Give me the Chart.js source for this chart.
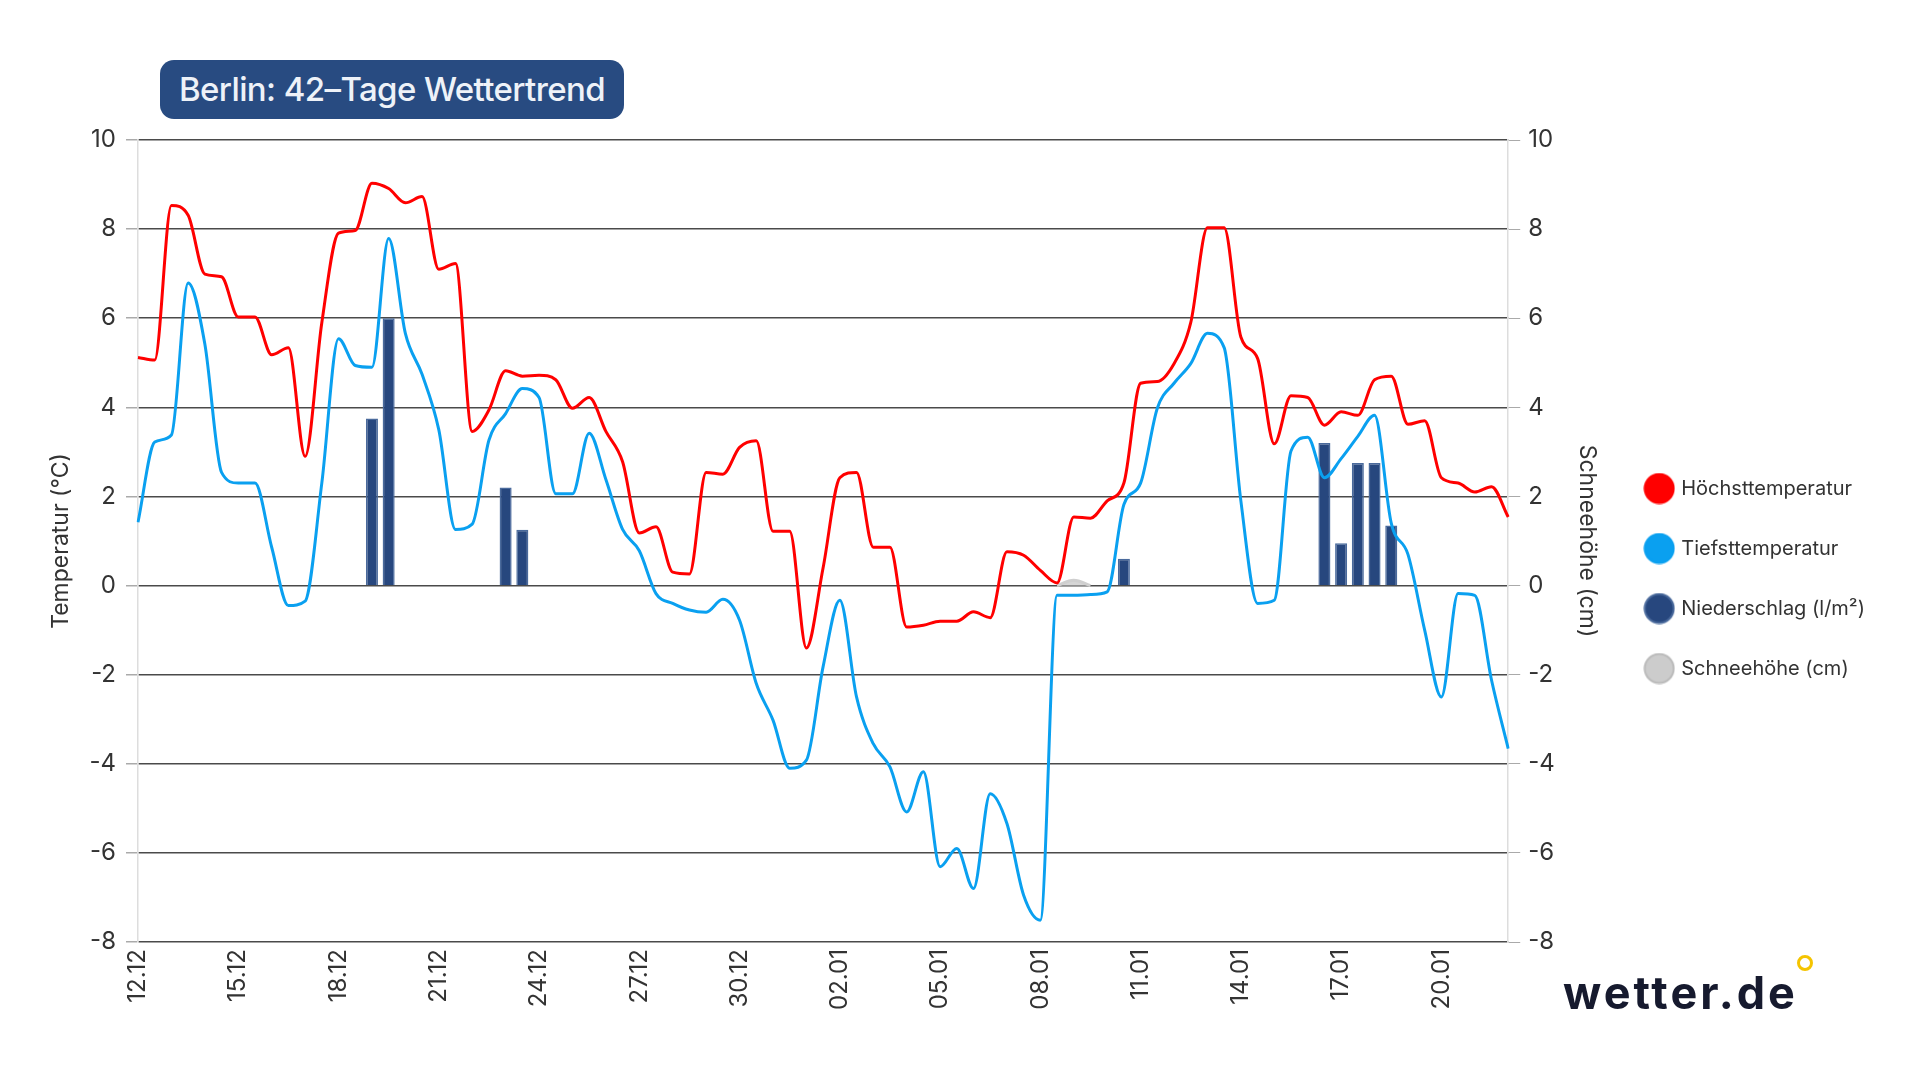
<!DOCTYPE html>
<html lang="de">
<head>
<meta charset="utf-8">
<title>Berlin: 42-Tage Wettertrend</title>
<script src="https://cdn.jsdelivr.net/npm/chart.js@4.4.1/dist/chart.umd.min.js"></script>
<style>
  html, body { margin: 0; padding: 0; background: #fff; }
  #wrap { position: relative; width: 1920px; height: 1080px; overflow: hidden; }
  #chart { position: absolute; left: 0; top: 0; width: 1920px; height: 1080px; }
  .badge {
    position: absolute; left: 160px; top: 60px; width: 464px; height: 59px;
    background: #284b81; border-radius: 14px; color: #eef2f8;
    font: 500 33px Inter, sans-serif; letter-spacing: -0.6px;
    line-height: 59px; text-align: center; white-space: nowrap;
  }
  .logo {
    position: absolute; left: 1563px; top: 971px;
    font: 700 45px Inter, sans-serif; line-height: 44px; letter-spacing: 3px;
    color: #161a2e; white-space: nowrap;
  }
  .ring {
    position: absolute; left: 1797px; top: 955px; width: 10px; height: 10px;
    border: 3.5px solid #f5c400; border-radius: 50%;
  }
</style>
</head>
<body>
<div id="wrap">
  <canvas id="chart" width="1920" height="1080"></canvas>
  <div class="badge">Berlin: 42–Tage Wettertrend</div>
  <div class="logo">wetter.de</div>
  <div class="ring"></div>
</div>
<script>
// Tage (Achsenbeschriftung), je zwei Werte pro Tag
const days = ['12.12', '13.12', '14.12', '15.12', '16.12', '17.12', '18.12', '19.12', '20.12', '21.12',
  '22.12', '23.12', '24.12', '25.12', '26.12', '27.12', '28.12', '29.12', '30.12', '31.12',
  '01.01', '02.01', '03.01', '04.01', '05.01', '06.01', '07.01', '08.01', '09.01', '10.01',
  '11.01', '12.01', '13.01', '14.01', '15.01', '16.01', '17.01', '18.01', '19.01', '20.01',
  '21.01', '22.01'];

const maxTemp = [5.12, 5.06, 8.53, 8.31, 6.99, 6.93, 6.03, 6.03, 5.18, 5.34,
  2.9, 5.9, 7.91, 7.97, 9.03, 8.91, 8.59, 8.73, 7.1, 7.23,
  3.46, 3.94, 4.82, 4.7, 4.72, 4.62, 3.98, 4.22, 3.46, 2.78,
  1.18, 1.32, 0.3, 0.26, 2.54, 2.5, 3.1, 3.25, 1.22, 1.22,
  -1.4, 0.4, 2.42, 2.54, 0.86, 0.86, -0.93, -0.89, -0.8, -0.8,
  -0.59, -0.72, 0.76, 0.68, 0.34, 0.06, 1.54, 1.51, 1.9, 2.3,
  4.54, 4.58, 4.98, 5.9, 8.03, 8.03, 5.58, 5.1, 3.18, 4.26,
  4.22, 3.6, 3.9, 3.82, 4.62, 4.7, 3.62, 3.7, 2.42, 2.3,
  2.1, 2.22, 1.54];

const minTemp = [1.42, 3.22, 3.38, 6.79, 5.42, 2.54, 2.3, 2.3, 0.86, -0.45,
  -0.35, 2.3, 5.54, 4.94, 4.9, 7.79, 5.66, 4.74, 3.5, 1.26,
  1.38, 3.26, 3.86, 4.42, 4.22, 2.06, 2.06, 3.42, 2.38, 1.26,
  0.78, -0.18, -0.4, -0.55, -0.6, -0.31, -0.78, -2.2, -3.02, -4.1,
  -3.92, -1.82, -0.33, -2.5, -3.55, -4.07, -5.08, -4.18, -6.31, -5.9,
  -6.8, -4.67, -5.34, -6.95, -7.51, -0.22, -0.22, -0.2, -0.14, 1.82,
  2.3, 3.98, 4.54, 4.98, 5.66, 5.34, 1.9, -0.4, -0.33, 3.02,
  3.33, 2.42, 2.85, 3.35, 3.82, 1.4, 0.7, -1.0, -2.5, -0.18,
  -0.22, -2.12, -3.66];

const precip = [null, null, null, null, null, null, null, null, null, null,
  null, null, null, null, 3.75, 6.0, null, null, null, null,
  null, null, 2.2, 1.25, null, null, null, null, null, null,
  null, null, null, null, null, null, null, null, null, null,
  null, null, null, null, null, null, null, null, null, null,
  null, null, null, null, null, null, null, null, null, 0.6,
  null, null, null, null, null, null, null, null, null, null,
  null, 3.2, 0.95, 2.75, 2.75, 1.35, null, null, null, null,
  null, null, null];

const snow = [null, null, null, null, null, null, null, null, null, null,
  null, null, null, null, null, null, null, null, null, null,
  null, null, null, null, null, null, null, null, null, null,
  null, null, null, null, null, null, null, null, null, null,
  null, null, null, null, null, null, null, null, null, null,
  null, null, null, null, null, 0, 0.12, 0, null, null,
  null, null, null, null, null, null, null, null, null, null,
  null, null, null, null, null, null, null, null, null, null,
  null, null, null];

const labels = maxTemp.map((v, i) => days[Math.floor(i / 2)]);

const legendColors = ['#ff0000', '#0aa0f0', '#27477e', '#cccccc'];
const legendBorders = ['#ff0000', '#0aa0f0', '#4a6a9c', '#bbbbbb'];

function makeDot(fill, stroke) {
  const c = document.createElement('canvas');
  c.width = 32; c.height = 32;
  const g = c.getContext('2d');
  g.beginPath();
  g.arc(16, 16, 14.5, 0, Math.PI * 2);
  g.fillStyle = fill;
  g.fill();
  g.lineWidth = 2;
  g.strokeStyle = stroke;
  g.stroke();
  return c;
}
const dots = legendColors.map((c, i) => makeDot(c, legendBorders[i]));

Chart.defaults.font.family = 'Inter';
Chart.defaults.color = '#333';

const ctx = document.getElementById('chart').getContext('2d');
const wetterChart = new Chart(ctx, {
  type: 'line',
  data: {
    labels: labels,
    datasets: [{
      label: 'Höchsttemperatur',
      data: maxTemp,
      borderColor: '#ff0000',
      backgroundColor: '#ff0000',
      borderWidth: 3,
      pointRadius: 0,
      cubicInterpolationMode: 'monotone',
      yAxisID: 'y'
    }, {
      label: 'Tiefsttemperatur',
      data: minTemp,
      borderColor: '#0aa0f0',
      backgroundColor: '#0aa0f0',
      borderWidth: 3,
      pointRadius: 0,
      cubicInterpolationMode: 'monotone',
      yAxisID: 'y'
    }, {
      type: 'bar',
      label: 'Niederschlag (l/m²)',
      data: precip,
      backgroundColor: '#27477e',
      borderColor: '#4a6a9c',
      borderWidth: 1.5,
      yAxisID: 'y1'
    }, {
      label: 'Schneehöhe (cm)',
      data: snow,
      borderColor: '#cfcfcf',
      backgroundColor: '#d6d6d6',
      borderWidth: 3,
      pointRadius: 0,
      fill: 'origin',
      tension: 0.4,
      yAxisID: 'y1'
    }]
  },
  options: {
    responsive: false,
    devicePixelRatio: 1,
    animation: false,
    events: [],
    layout: { padding: { left: 10, right: 45, top: 140, bottom: 63 } },
    scales: {
      x: {
        offset: false,
        grid: { display: false, drawTicks: false, tickLength: 0, offset: false },
        border: { display: false },
        ticks: {
          autoSkip: false,
          minRotation: 90,
          maxRotation: 90,
          padding: 7,
          color: '#333',
          font: { size: 24 },
          callback: (v, i) => (i % 6 === 0 ? labels[i] : '')
        },
        afterFit: s => { s.height = 75; }
      },
      y: {
        position: 'left',
        min: -8,
        max: 10,
        ticks: { stepSize: 2, padding: 10, color: '#333', font: { size: 24 } },
        grid: { color: '#4a4a4a', lineWidth: 1.5, tickColor: '#aaaaaa', tickLength: 12 },
        border: { color: '#dddddd', width: 1.5 },
        title: {
          display: true,
          text: 'Temperatur (°C)',
          color: '#333',
          font: { size: 23 },
          padding: { top: 37, bottom: 0 }
        },
        afterFit: s => { s.width = 128; }
      },
      y1: {
        position: 'right',
        min: -8,
        max: 10,
        ticks: { stepSize: 2, padding: 8, color: '#333', font: { size: 24 } },
        grid: { drawOnChartArea: false, tickColor: '#aaaaaa', tickLength: 12 },
        border: { color: '#dddddd', width: 1.5 },
        title: {
          display: true,
          text: 'Schneehöhe (cm)',
          color: '#333',
          font: { size: 23 },
          padding: { top: 6, bottom: 0 }
        },
        afterFit: s => { s.width = 99; }
      }
    },
    plugins: {
      tooltip: { enabled: false },
      legend: {
        position: 'right',
        align: 'center',
        labels: {
          usePointStyle: true,
          pointStyleWidth: 24,
          padding: 40,
          color: '#333',
          font: { size: 20 },
          generateLabels: chart => Chart.defaults.plugins.legend.labels.generateLabels(chart)
            .map((item, i) => Object.assign(item, { pointStyle: dots[i] }))
        }
      }
    }
  }
});
</script>
</body>
</html>
